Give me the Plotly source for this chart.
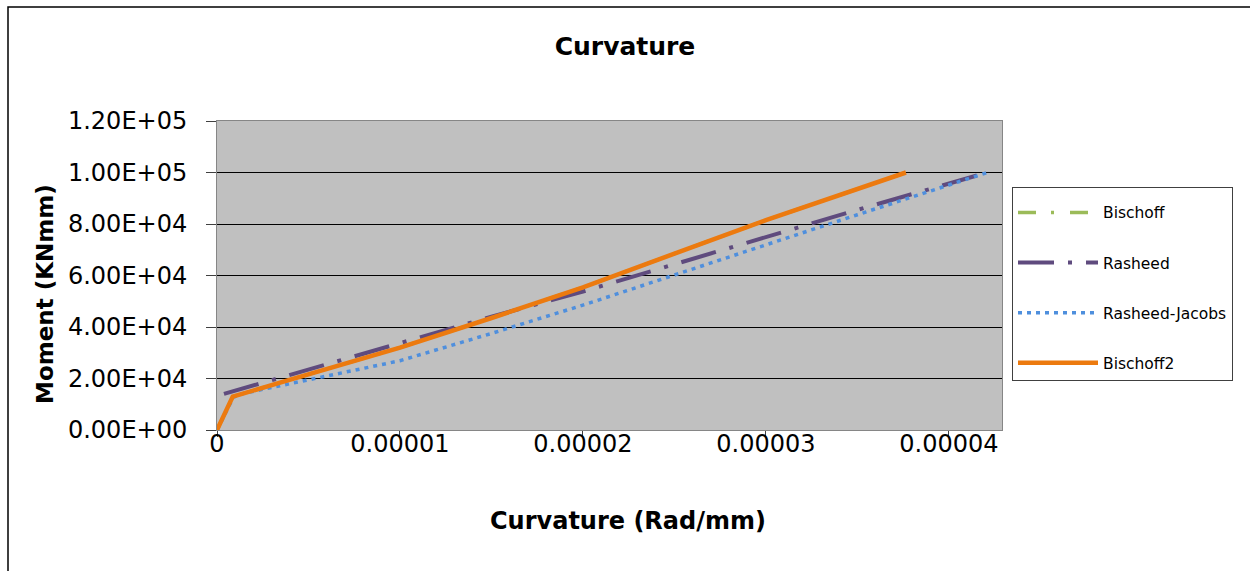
import plotly.graph_objects as go

# Moment-curvature data (curvature in rad/mm, moment in kN*mm)
curv_bischoff = [0, 0.86e-6, 3.4e-6, 1.0e-5, 1.5e-5, 2.0e-5, 2.5e-5, 3.0e-5, 3.765e-5]
mom_bischoff = [0, 12960, 18300, 32000, 43500, 55400, 68500, 81500, 100000]

curv_rasheed = [0.38e-6, 1.0e-5, 1.5e-5, 2.0e-5, 2.5e-5, 3.0e-5, 3.5e-5, 4.21e-5]
mom_rasheed = [14000, 34000, 44000, 53800, 64300, 75000, 85500, 100000]

curv_rj = [0, 0.9e-6, 1.5e-6, 5.0e-6, 1.0e-5, 1.5e-5, 2.0e-5, 2.5e-5, 3.0e-5, 3.5e-5, 4.21e-5]
mom_rj = [0, 12800, 14300, 19600, 26900, 37500, 48500, 60200, 72000, 83600, 100000]

curv_bischoff2 = [0, 0.86e-6, 3.4e-6, 1.0e-5, 1.5e-5, 2.0e-5, 2.5e-5, 3.0e-5, 3.765e-5]
mom_bischoff2 = [0, 12960, 18300, 32000, 43500, 55400, 68500, 81500, 100000]

x_tickvals = [0, 1e-5, 2e-5, 3e-5, 4e-5]
x_ticktext = ["0", "0.00001", "0.00002", "0.00003", "0.00004"]
y_tickvals = [0, 20000, 40000, 60000, 80000, 100000, 120000]
y_ticktext = ["0.00E+00", "2.00E+04", "4.00E+04", "6.00E+04", "8.00E+04", "1.00E+05", "1.20E+05"]

FONT = "DejaVu Sans, Arial, sans-serif"

fig = go.Figure()
fig.add_trace(go.Scatter(
    x=curv_bischoff, y=mom_bischoff, mode="lines", name="Bischoff",
    legendgroup="g1",
    line=dict(color="#9BBB59", width=3.5, dash="18px,15px,3px,16px"),
))
fig.add_trace(go.Scatter(
    x=curv_rasheed, y=mom_rasheed, mode="lines", name="Rasheed",
    legendgroup="g2",
    line=dict(color="#5F4B7E", width=4, dash="36px,14px,4px,14px"),
))
fig.add_trace(go.Scatter(
    x=curv_rj, y=mom_rj, mode="lines", name="Rasheed-Jacobs",
    legendgroup="g3",
    line=dict(color="#4F8FDD", width=3.5, dash="4px,5px"),
))
fig.add_trace(go.Scatter(
    x=curv_bischoff2, y=mom_bischoff2, mode="lines", name="Bischoff2",
    legendgroup="g4",
    line=dict(color="#EC7A0F", width=4.5),
))

L, R, T, B = 217, 248, 121, 141
W, H = 1250, 571
pw, ph = W - L - R, H - T - B


def px(x):
    return (x - L) / pw


def py(y):
    return (H - B - y) / ph


fig.update_layout(
    width=W, height=H,
    margin=dict(l=L, r=R, t=T, b=B),
    paper_bgcolor="white",
    plot_bgcolor="#C0C0C0",
    font=dict(family=FONT, color="black"),
    title=dict(text="<b>Curvature</b>", x=0.5, xanchor="center",
               y=1 - 46 / H, yanchor="middle", yref="container",
               font=dict(size=25, family=FONT, color="black")),
    showlegend=True,
    legend=dict(
        x=px(1012), y=py(187), xanchor="left", yanchor="top",
        bgcolor="white", bordercolor="#404040", borderwidth=1,
        font=dict(size=15.5, family=FONT, color="black"),
        title=dict(text=" ", font=dict(size=6)),
        tracegroupgap=27, itemwidth=80,
    ),
    xaxis=dict(
        range=[0, 4.29e-5], tickvals=x_tickvals, ticktext=x_ticktext,
        showgrid=False, zeroline=False,
        showline=True, linecolor="#868686", linewidth=1, mirror=True,
        ticks="outside", ticklen=6, tickcolor="#404040",
        ticklabelstandoff=-14,
        tickfont=dict(size=24, family=FONT, color="black"),
    ),
    yaxis=dict(
        range=[0, 120000], tickvals=y_tickvals, ticktext=y_ticktext,
        showgrid=True, gridcolor="black", gridwidth=1, zeroline=False,
        showline=True, linecolor="#868686", linewidth=1, mirror=True,
        ticks="outside", ticklen=10, tickcolor="#404040",
        ticklabelstandoff=14,
        tickfont=dict(size=24, family=FONT, color="black"),
    ),
    annotations=[
        dict(text="<b>Curvature (Rad/mm)</b>", xref="paper", yref="paper",
             x=px(628), y=py(521), xanchor="center", yanchor="middle",
             showarrow=False, font=dict(size=24, family=FONT, color="black")),
        dict(text="<b>Moment (KNmm)</b>", xref="paper", yref="paper",
             x=px(45), y=py(294), xanchor="center", yanchor="middle",
             textangle=-90, showarrow=False,
             font=dict(size=23, family=FONT, color="black")),
    ],
    shapes=[
        dict(type="rect", xref="paper", yref="paper",
             x0=px(8), x1=px(1262), y0=py(585), y1=py(7),
             line=dict(color="black", width=1.5), fillcolor="rgba(0,0,0,0)",
             layer="below"),
    ],
)

fig.write_html("out.html")
